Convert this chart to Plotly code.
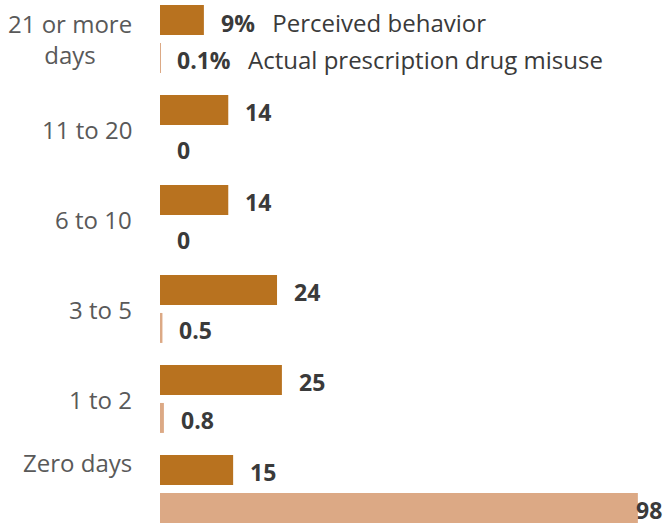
import plotly.graph_objects as go

# Number of days, perceived vs. actual prescription drug misuse (%)
categories = ["21 or more days", "11 to 20", "6 to 10", "3 to 5", "1 to 2", "Zero days"]
category_labels = ["21 or more<br>days", "11 to 20", "6 to 10", "3 to 5", "1 to 2", "Zero days"]
perceived = [9, 14, 14, 24, 25, 15]
actual = [0.1, 0, 0, 0.5, 0.8, 98]
series_names = ["Perceived behavior", "Actual prescription drug misuse"]

C_PERCEIVED = "#B8721F"
C_ACTUAL = "#DCA985"
FONT = "Open Sans"


def fmt(v):
    return f"{v:g}"


def value_label(v, i, name):
    # first row carries a percent sign and the series name
    if i == 0:
        return f"<b>{fmt(v)}%</b>\u2002 <span style='font-size:24px'>{name}</span>"
    return f"<b>{fmt(v)}</b>"


fig = go.Figure()
fig.add_trace(go.Bar(
    y=categories, x=perceived, orientation="h", name=series_names[0],
    marker=dict(color=C_PERCEIVED, line=dict(width=0)),
    offset=-0.378, width=0.333, hoverinfo="skip",
))
fig.add_trace(go.Bar(
    y=categories, x=actual, orientation="h", name=series_names[1],
    marker=dict(color=C_ACTUAL, line=dict(width=0)),
    offset=0.044, width=0.333, hoverinfo="skip",
))

annotations = []
for i, cat in enumerate(categories):
    # value labels, just past the bar ends
    for val, name, off in ((perceived[i], series_names[0], -0.211), (actual[i], series_names[1], 0.211)):
        annotations.append(dict(
            x=val, y=i + off, xref="x", yref="y", text=value_label(val, i, name), showarrow=False,
            xanchor="left", yanchor="middle",
            xshift=15 if val < 90 else -4, yshift=-2,
            font=dict(family=FONT, size=23, color="#3a3a3a"),
        ))
    # category labels on the left
    annotations.append(dict(
        x=0, y=i, xref="paper", yref="y", text=category_labels[i], showarrow=False,
        xanchor="right", yanchor="middle", align="center", xshift=-26,
        yshift=27 if cat == "Zero days" else 0,
        font=dict(family=FONT, size=24, color="#595959"),
    ))

fig.update_layout(
    width=672, height=525,
    margin=dict(l=160, r=0, t=0, b=0),
    paper_bgcolor="white", plot_bgcolor="white",
    showlegend=False, barmode="overlay",
    xaxis=dict(range=[0, 105], visible=False, fixedrange=True),
    yaxis=dict(type="category", categoryorder="array", categoryarray=categories,
               range=[5.4, -0.4333], visible=False, fixedrange=True),
    annotations=annotations,
    font=dict(family=FONT),
)

fig.write_html("out.html", config={"displayModeBar": False})
